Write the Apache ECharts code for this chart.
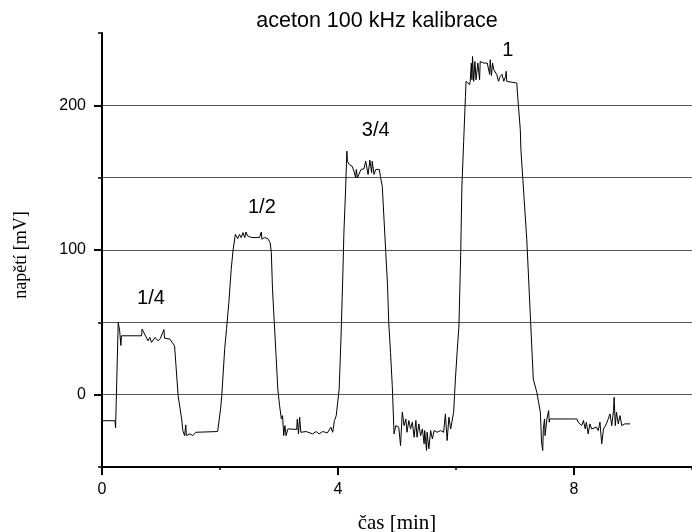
<!DOCTYPE html>
<html>
<head>
<meta charset="utf-8">
<script src="https://cdn.jsdelivr.net/npm/echarts@6/dist/echarts.min.js"></script>
<style>
html,body{margin:0;padding:0;background:#fff;}
#chart{width:692px;height:532px;}
</style>
</head>
<body>
<div id="chart"></div>
<script>
// ---- data ----
var titleText = 'aceton 100 kHz kalibrace';
var xAxisName = 'čas [min]';
var yAxisName = 'napětí [mV]';
var xTickLabels = [0, 4, 8];
var xMinorTicks = [2, 6, 10];
var yTickLabels = [0, 100, 200];
var yMinorTicks = [-50, 50, 150, 250];
// [time (min), voltage (mV)]
var trace = [
  [0.00,-18],[0.22,-18],[0.23,-23],[0.24,-22],[0.275,50],[0.30,44],[0.32,34],[0.33,40.7],
  [0.67,40.7],[0.68,45.3],[0.71,45],[0.78,37.2],[0.81,39.6],[0.84,36.1],[0.87,36.1],[0.90,39.6],
  [0.95,37.2],[0.99,39],[1.05,45],[1.06,39],[1.15,38.4],[1.18,38.4],[1.23,33.8],[1.29,-0.7],
  [1.35,-16.8],[1.37,-24.8],[1.40,-28.3],[1.42,-20.9],[1.43,-28.3],[1.49,-27.1],[1.54,-28.3],[1.59,-26],
  [1.96,-25.5],[2.01,-9.9],[2.03,-0.7],[2.08,32],[2.11,45],[2.15,63.7],[2.19,86.7],[2.22,99.3],
  [2.26,110.8],[2.28,112],[2.30,107.9],[2.33,110.8],[2.36,108.6],[2.39,112],[2.42,108.6],[2.44,112.4],
  [2.47,109.7],[2.50,110.8],[2.53,108.6],[2.56,109.7],[2.61,108.6],[2.67,108.6],[2.70,112.4],[2.71,107.4],
  [2.75,108.6],[2.81,107.9],[2.85,105.1],[2.87,98.2],[2.89,72.9],[2.92,49.9],[2.95,26.9],[2.98,3.9],
  [3.01,-7.6],[3.04,-16.8],[3.06,-14.5],[3.08,-28.3],[3.10,-21.4],[3.12,-28.3],[3.15,-23.7],[3.30,-24],
  [3.31,-17],[3.33,-27],[3.35,-15.6],[3.37,-26],[3.46,-25.5],[3.57,-27.1],[3.63,-25.5],[3.68,-27.1],
  [3.74,-25.5],[3.82,-26.4],[3.88,-22.5],[3.91,-26],[3.94,-17.9],[3.97,-14.5],[4.02,3.9],[4.05,38.4],
  [4.08,80],[4.10,112],[4.13,143],[4.15,168.3],[4.16,161.4],[4.19,159.1],[4.24,157.9],[4.27,154.5],
  [4.30,149.9],[4.31,155.7],[4.33,149.9],[4.36,151],[4.39,155.7],[4.44,156.1],[4.47,161.4],[4.50,160.3],
  [4.51,152.2],[4.54,162.1],[4.57,153.4],[4.58,161.4],[4.61,152.2],[4.64,155.7],[4.70,155.7],[4.72,150.6],
  [4.75,144.1],[4.78,121.2],[4.81,98.2],[4.84,75.2],[4.86,49.9],[4.89,29.2],[4.92,6.2],[4.95,-27.1],
  [4.98,-21.4],[5.03,-22.5],[5.06,-35.2],[5.09,-12.1],[5.12,-21.4],[5.15,-16.8],[5.17,-26],[5.20,-17.9],
  [5.23,-23.7],[5.26,-19],[5.29,-29.4],[5.32,-17.9],[5.34,-29.4],[5.37,-20.2],[5.40,-28.3],[5.43,-23.7],
  [5.46,-34],[5.47,-24.8],[5.50,-38.6],[5.51,-26],[5.54,-37.4],[5.57,-24.8],[5.60,-30.6],[5.63,-24.8],
  [5.68,-26],[5.74,-24.8],[5.79,-26],[5.82,-13.3],[5.85,-31.7],[5.88,-15.6],[5.91,-23.7],[5.93,-24.8],
  [5.96,-12.1],[5.99,10.8],[6.02,30],[6.05,47.6],[6.08,98.2],[6.10,144.1],[6.13,175],[6.16,206.2],
  [6.17,216.6],[6.19,215.4],[6.20,217.7],[6.23,214.3],[6.24,216.6],[6.26,229.2],[6.27,217.7],[6.28,233.8],
  [6.30,216.6],[6.32,230.3],[6.34,217.7],[6.37,229.2],[6.40,217.7],[6.41,230.3],[6.47,229.2],[6.53,229.2],
  [6.55,230.3],[6.57,221.4],[6.58,231.5],[6.60,220.6],[6.62,229.2],[6.64,224.6],[6.67,223.5],[6.69,221.4],
  [6.72,216.6],[6.75,220],[6.78,221.4],[6.81,216.6],[6.84,220],[6.85,223.5],[6.86,216.6],[6.89,215.4],
  [7.03,215.4],[7.05,203.9],[7.07,202.8],[7.09,183.2],[7.10,169.4],[7.20,107],[7.31,10.8],[7.37,1.6],
  [7.40,0.5],[7.43,-12.1],[7.45,-32.8],[7.47,-38.6],[7.48,-23.7],[7.50,-16.8],[7.51,-28.3],[7.54,-16.8],
  [7.57,-11],[7.58,-19],[7.59,-16.8],[7.96,-16.8],[7.99,-17.9],[8.05,-16.8],[8.07,-19],[8.10,-17.9],
  [8.13,-21.4],[8.16,-17.9],[8.19,-23.7],[8.21,-19],[8.24,-27.1],[8.27,-20.2],[8.30,-23.7],[8.33,-22.5],
  [8.38,-22.5],[8.41,-24.8],[8.44,-19],[8.47,-34],[8.50,-23.7],[8.53,-23.7],[8.55,-20.2],[8.58,-21.4],
  [8.61,-13.3],[8.64,-21.4],[8.67,-11],[8.68,-1.8],[8.70,-21.4],[8.72,-12.1],[8.75,-20.2],[8.78,-14.5],
  [8.81,-21.4],[8.86,-20.2],[8.95,-20.2]
];
var annotLabels = ['1/4', '1/2', '3/4', '1'];
var annotX = [0.83, 2.71, 4.64, 6.88];
var annotY = [66.5, 129.5, 182.5, 238];

// ---- chart ----
var sans = 'Liberation Sans, Arial, sans-serif';
var serif = 'Liberation Serif, Times New Roman, serif';
var chart = echarts.init(document.getElementById('chart'));
var annotData = annotLabels.map(function (l, i) { return { value: [annotX[i], annotY[i]], name: l }; });
chart.setOption({
  animation: false,
  backgroundColor: '#fff',
  title: {
    text: titleText,
    left: 377, textAlign: 'center', top: 10, padding: 0,
    textStyle: { fontFamily: sans, fontSize: 21.5, fontWeight: 'normal', color: '#000' }
  },
  grid: { left: 102, right: 0, top: 33, bottom: 65, containLabel: false, outerBoundsMode: 'none' },
  xAxis: [{
    type: 'value', min: 0, max: 10, interval: 2,
    name: xAxisName, nameLocation: 'middle', nameGap: 46,
    nameTextStyle: { fontFamily: serif, fontSize: 21, color: '#000' },
    axisLine: { show: true, onZero: false, lineStyle: { color: '#000', width: 2 } },
    axisTick: { show: true, customValues: xTickLabels, length: 8, lineStyle: { color: '#000', width: 2 } },
    axisLabel: { customValues: xTickLabels, margin: 15, fontFamily: sans, fontSize: 16, color: '#000' },
    splitLine: { show: false }
  }, {
    type: 'value', min: 0, max: 10, position: 'bottom',
    axisLine: { show: false, onZero: false },
    axisTick: { show: true, customValues: xMinorTicks, length: 3, lineStyle: { color: '#000', width: 1.5 } },
    axisLabel: { show: false },
    splitLine: { show: false }
  }],
  yAxis: [{
    type: 'value', min: -50, max: 250, interval: 50,
    name: yAxisName, nameLocation: 'middle', nameGap: 72, nameRotate: 90,
    nameTextStyle: { fontFamily: serif, fontSize: 18, color: '#000', padding: [0, 10, 0, 0] },
    axisLine: { show: true, onZero: false, lineStyle: { color: '#000', width: 2 } },
    axisTick: { show: false },
    axisLabel: { show: false },
    splitLine: { show: true, showMinLine: false, showMaxLine: false, lineStyle: { color: '#555', width: 1 } }
  }, {
    type: 'value', min: -50, max: 250, position: 'left',
    axisLine: { show: false, onZero: false },
    axisTick: { show: true, customValues: yTickLabels, length: 8, lineStyle: { color: '#000', width: 2 } },
    axisLabel: { customValues: yTickLabels, margin: 16, fontFamily: sans, fontSize: 16, color: '#000' },
    splitLine: { show: false }
  }, {
    type: 'value', min: -50, max: 250, position: 'left',
    axisLine: { show: false, onZero: false },
    axisTick: { show: true, customValues: yMinorTicks, length: 4, lineStyle: { color: '#000', width: 1.5 } },
    axisLabel: { show: false },
    splitLine: { show: false }
  }],
  series: [{
    type: 'line',
    data: trace,
    xAxisIndex: 0, yAxisIndex: 0,
    showSymbol: false, symbol: 'none',
    lineStyle: { color: '#000', width: 1 },
    z: 3
  }, {
    type: 'scatter',
    data: annotData,
    xAxisIndex: 0, yAxisIndex: 0,
    symbolSize: 0,
    itemStyle: { color: '#000', opacity: 1 },
    label: {
      show: true, position: 'inside',
      formatter: function (p) { return p.name; },
      fontFamily: sans, fontSize: 20, color: '#000', opacity: 1,
      textBorderWidth: 0, textShadowBlur: 0
    },
    silent: true
  }]
});
</script>
</body>
</html>
